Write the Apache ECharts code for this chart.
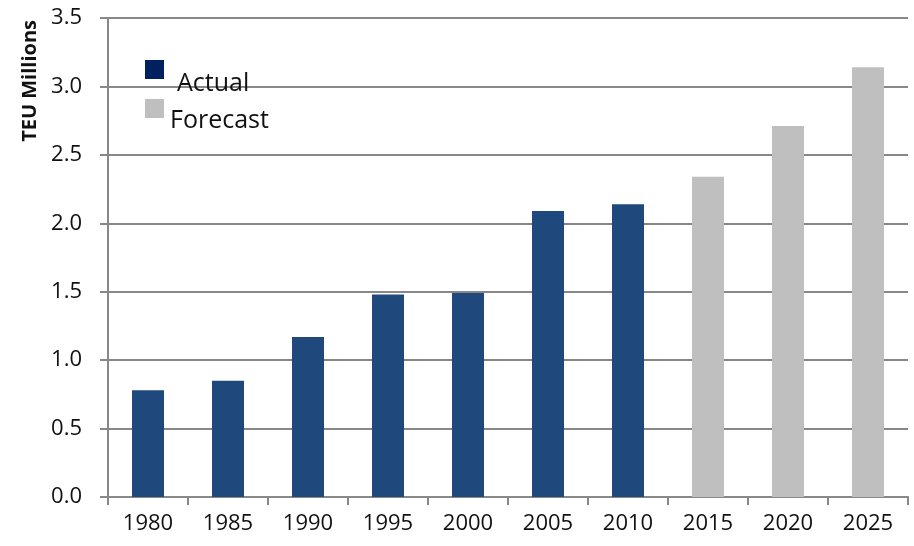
<!DOCTYPE html>
<html><head><meta charset="utf-8">
<script src="https://cdn.jsdelivr.net/npm/echarts@6/dist/echarts.min.js"></script>
<style>html,body{margin:0;padding:0;background:#fff}#c{width:914px;height:546px}</style>
</head><body><div id="c"></div>
<script>
const categories = ['1980','1985','1990','1995','2000','2005','2010','2015','2020','2025'];
const actualValues = [0.78, 0.85, 1.17, 1.48, 1.49, 2.09, 2.14, null, null, null];
const forecastValues = [null, null, null, null, null, null, null, 2.34, 2.71, 3.14];
const yTicks = {min: 0, max: 3.5, interval: 0.5};

const chart = echarts.init(document.getElementById('c'));
const font = "'Open Sans', 'Liberation Sans', sans-serif";
const legendBase = {
  orient: 'vertical', itemWidth: 19, itemHeight: 19, padding: 0, icon: 'rect',
  formatter: name => '{t|' + name + '}'
};
function legendText(padTop, padLeft) {
  return {fontFamily: font, fontSize: 25, color: '#111',
    rich: {t: {fontFamily: font, fontSize: 25, color: '#111', lineHeight: 19, padding: [padTop, 0, 0, padLeft]}}};
}
chart.setOption({
  animation: false,
  grid: {left: 108, right: 6, top: 18, bottom: 49, containLabel: false},
  legend: [
    Object.assign({}, legendBase, {
      left: 145, top: 43, textStyle: legendText(28, 8),
      data: [{name: 'Actual', itemStyle: {color: '#002060'}}]
    }),
    Object.assign({}, legendBase, {
      left: 145, top: 84, textStyle: legendText(24, 1),
      data: [{name: 'Forecast', itemStyle: {color: '#BFBFBF'}}]
    })
  ],
  xAxis: {
    type: 'category', data: categories,
    axisLine: {lineStyle: {color: '#888', width: 2}},
    axisTick: {show: true, length: 8, lineStyle: {color: '#888', width: 2}},
    axisLabel: {fontFamily: font, fontSize: 22, color: '#111', margin: 16}
  },
  yAxis: {
    type: 'value', min: yTicks.min, max: yTicks.max, interval: yTicks.interval,
    axisLine: {show: true, lineStyle: {color: '#888', width: 2}},
    axisTick: {show: true, length: 8, lineStyle: {color: '#888', width: 2}},
    splitLine: {lineStyle: {color: '#888', width: 2}},
    axisLabel: {fontFamily: font, fontSize: 22, color: '#111', margin: 26, formatter: v => v.toFixed(1)}
  },
  graphic: [{
    type: 'text', left: 20, top: 20, rotation: Math.PI / 2,
    style: {text: 'TEU Millions', fontFamily: font, fontSize: 20, fontWeight: 'bold', fill: '#111'}
  }],
  series: [
    {name: 'Actual', type: 'bar', stack: 'a', data: actualValues, barWidth: '40%', itemStyle: {color: '#1F497D'}},
    {name: 'Forecast', type: 'bar', stack: 'a', data: forecastValues, barWidth: '40%', itemStyle: {color: '#BFBFBF'}}
  ]
});
</script></body></html>
